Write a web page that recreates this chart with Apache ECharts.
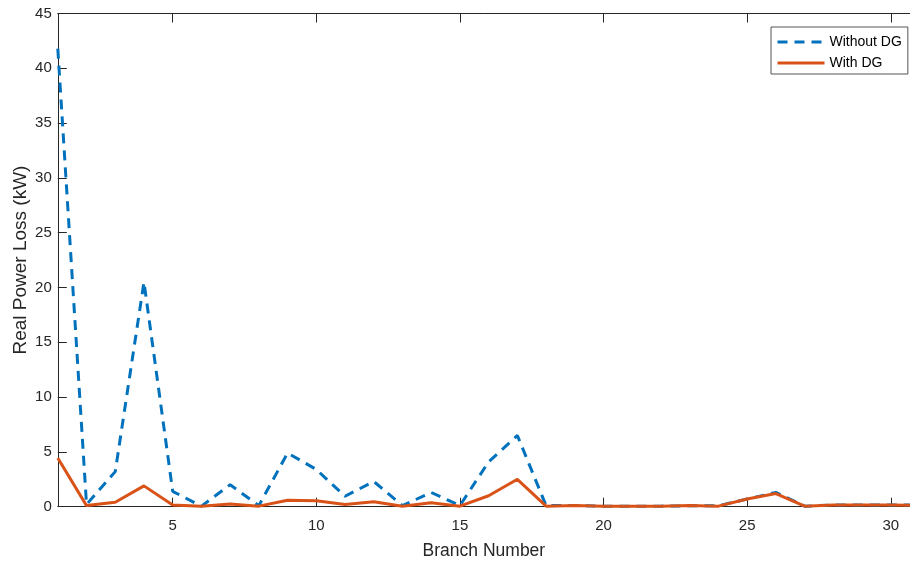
<!DOCTYPE html>
<html>
<head>
<meta charset="utf-8">
<title>Real Power Loss per Branch</title>
<script src="https://cdn.jsdelivr.net/npm/echarts@6/dist/echarts.min.js"></script>
<style>
  html, body { margin: 0; padding: 0; background: #ffffff; }
  #chart { width: 910px; height: 561px; }
</style>
</head>
<body>
<div id="chart"></div>
<script>
// Branch numbers of the feeder
const branches = [1, 2, 3, 4, 5, 6, 7, 8, 9, 10, 11, 12, 13, 14, 15, 16,
                  17, 18, 19, 20, 21, 22, 23, 24, 25, 26, 27, 28, 29, 30, 31, 32];

// Real power loss per branch (kW), base case
const lossWithoutDG = [41.8, 0.2, 3.2, 20.5, 1.4, 0.05, 2.0, 0.1, 4.9, 3.4, 0.95, 2.3, 0.1, 1.3, 0.1, 4.1,
                       6.5, 0.1, 0.12, 0.05, 0.05, 0.05, 0.08, 0.08, 0.7, 1.3, 0.05, 0.15, 0.15, 0.15, 0.15, 0.1];

// Real power loss per branch (kW), with distributed generation
const lossWithDG = [4.45, 0.1, 0.4, 1.9, 0.15, 0.05, 0.25, 0.05, 0.58, 0.55, 0.2, 0.45, 0.05, 0.35, 0.05, 1.0,
                    2.5, 0.05, 0.1, 0.05, 0.05, 0.05, 0.1, 0.05, 0.7, 1.2, 0.05, 0.15, 0.15, 0.15, 0.12, 0.1];

// Tick positions
const xTicks = [5, 10, 15, 20, 25, 30];
const yTicks = [0, 5, 10, 15, 20, 25, 30, 35, 40, 45];

const FONT = '"Liberation Sans", Arial, Helvetica, sans-serif';
const AXIS_COLOR = '#262626';

const chart = echarts.init(document.getElementById('chart'), null, { renderer: 'canvas' });

const pairs = (ys) => branches.map((b, i) => [b, ys[i]]);

chart.setOption({
  animation: false,
  backgroundColor: '#ffffff',
  textStyle: { fontFamily: FONT },
  grid: { left: 57.8, right: 0, top: 13.5, bottom: 54.3, containLabel: false, outerBoundsMode: 'none' },
  legend: {
    orient: 'vertical',
    left: 771,
    top: 27,
    padding: [8, 6, 4, 5],
    itemGap: 7,
    itemWidth: 47,
    itemHeight: 12,
    backgroundColor: '#ffffff',
    borderColor: '#555555',
    borderWidth: 1,
    borderRadius: 0,
    itemStyle: { opacity: 0 },
    lineStyle: { width: 3 },
    textStyle: { fontSize: 14, color: '#000000', fontFamily: FONT },
    data: ['Without DG', 'With DG']
  },
  xAxis: [
    {
      type: 'value',
      min: 1,
      max: 30.67,
      name: 'Branch Number',
      nameLocation: 'middle',
      nameGap: 35,
      nameMoveOverlap: false,
      nameTextStyle: { fontSize: 17.5, color: AXIS_COLOR, fontFamily: FONT },
      axisLine: { show: true, onZero: false, lineStyle: { color: AXIS_COLOR, width: 1 } },
      axisTick: { show: true, inside: true, length: 9, customValues: xTicks, lineStyle: { color: AXIS_COLOR } },
      axisLabel: { show: true, customValues: xTicks, margin: 12, fontSize: 15, color: AXIS_COLOR, fontFamily: FONT },
      splitLine: { show: false }
    },
    {
      type: 'value',
      position: 'top',
      min: 1,
      max: 30.67,
      axisLine: { show: true, onZero: false, lineStyle: { color: AXIS_COLOR, width: 1 } },
      axisTick: { show: true, inside: true, length: 9, customValues: xTicks, lineStyle: { color: AXIS_COLOR } },
      axisLabel: { show: false },
      splitLine: { show: false }
    }
  ],
  yAxis: {
    type: 'value',
    min: 0,
    max: 45,
    interval: 5,
    name: 'Real Power Loss (kW)',
    nameLocation: 'middle',
    nameGap: 28,
    nameMoveOverlap: false,
    nameTextStyle: { fontSize: 19, color: AXIS_COLOR, fontFamily: FONT },
    axisLine: { show: true, onZero: false, lineStyle: { color: AXIS_COLOR, width: 1 } },
    axisTick: { show: true, inside: true, length: 9, lineStyle: { color: AXIS_COLOR } },
    axisLabel: { show: true, margin: 6, fontSize: 15, color: AXIS_COLOR, fontFamily: FONT,
                 customValues: yTicks },
    splitLine: { show: false }
  },
  series: [
    {
      name: 'Without DG',
      type: 'line',
      data: pairs(lossWithoutDG),
      symbol: 'none',
      clip: true,
      lineStyle: { color: '#0072BD', width: 3, type: [10, 7] },
      itemStyle: { color: '#0072BD' },
      z: 2
    },
    {
      name: 'With DG',
      type: 'line',
      data: pairs(lossWithDG),
      symbol: 'none',
      clip: true,
      lineStyle: { color: '#D95319', width: 3, type: 'solid' },
      itemStyle: { color: '#D95319' },
      z: 3
    }
  ]
});
</script>
</body>
</html>
